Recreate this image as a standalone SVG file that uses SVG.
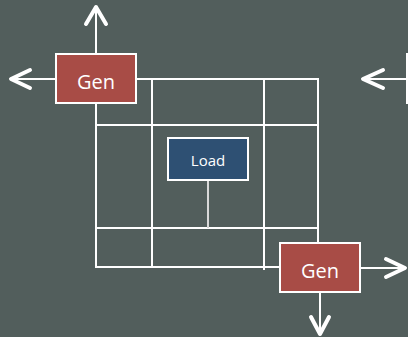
<svg xmlns="http://www.w3.org/2000/svg" width="408" height="337" viewBox="0 0 408 337">
  <style>
    .grid { stroke: #ffffff; stroke-width: 2; fill: none; stroke-linecap: square; }
    .tap { stroke: #d9d9d9; stroke-width: 2; fill: none; }
    .shaft { stroke: #ffffff; stroke-width: 2; fill: none; }
    .head { stroke: #ffffff; stroke-width: 4; fill: none; stroke-linecap: round; stroke-linejoin: round; }
    .gen rect { fill: #a84c46; stroke: #ffffff; stroke-width: 2; }
    .load rect { fill: #2e5073; stroke: #ffffff; stroke-width: 2; }
    .label { fill: #ffffff; font-family: "Open Sans", "Noto Sans", sans-serif; text-anchor: middle; }
  </style>
  <rect width="408" height="337" fill="#525e5c"/>

  <g id="connectors">
    <!-- network grid -->
    <path class="grid" d="M136 79 H318 M96 125 H318 M96 228 H318 M96 267 H280"/>
    <path class="grid" d="M96 104 V267 M152 79 V267 M264 79 V269 M318 79 V243"/>
    <!-- load tap -->
    <path class="tap" d="M208 180 V228"/>
    <!-- outgoing power flows -->
    <path class="shaft" d="M96 54 V9"/>
    <path class="head" d="M86 24 L96 7 L106 24"/>
    <path class="shaft" d="M56 79 H12"/>
    <path class="head" d="M30 70 L11 79 L30 88"/>
    <path class="shaft" d="M406 79 H364"/>
    <path class="head" d="M383 70 L363 79 L383 88"/>
    <path class="shaft" d="M360 268 H403"/>
    <path class="head" d="M386 259 L405 268 L386 277"/>
    <path class="shaft" d="M320 292 V333"/>
    <path class="head" d="M311 317 L320 334 L329 317"/>
  </g>

  <g id="gen-top" class="gen">
    <rect x="56" y="54" width="80" height="49"/>
    <text class="label" x="96" y="88.5" font-size="20">Gen</text>
  </g>

  <g id="gen-bottom" class="gen">
    <rect x="280" y="243" width="80" height="49"/>
    <text class="label" x="320" y="277.5" font-size="20">Gen</text>
  </g>

  <g id="gen-right" class="gen">
    <rect x="407" y="54" width="80" height="49"/>
  </g>

  <g id="load" class="load">
    <rect x="168" y="138" width="80" height="42"/>
    <text class="label" x="208" y="165.5" font-size="15">Load</text>
  </g>
</svg>
